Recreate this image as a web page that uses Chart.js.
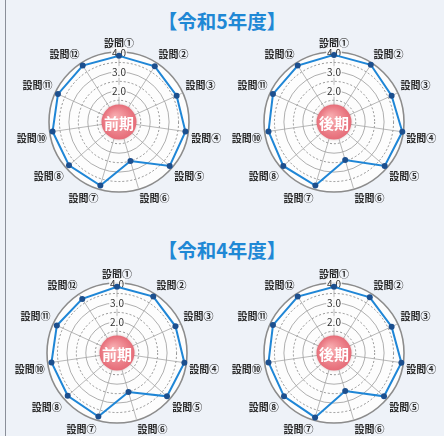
<!DOCTYPE html>
<html>
<head>
<meta charset="utf-8">
<script src="https://cdn.jsdelivr.net/npm/chart.js@4"></script>
<style>
  body { margin: 0; width: 444px; height: 436px; background: #eef2f8; overflow: hidden; position: relative;
         font-family: "Noto Sans CJK JP", sans-serif; }
  .title { position: absolute; left: 0; width: 444px; text-align: center; color: #1f88d5;
           font-weight: bold; font-size: 19.5px; line-height: 20px; }
  .edge { position: absolute; left: 5px; top: 0; width: 1px; height: 436px; background: #8a8f99; }
  canvas { position: absolute; }
</style>
</head>
<body>
<div class="edge"></div>
<div class="title" style="top:11px">【令和5年度】</div>
<div class="title" style="top:240px">【令和4年度】</div>
<canvas id="r5First" width="218" height="170" style="left:10px;top:36px"></canvas>
<canvas id="r5Second" width="218" height="170" style="left:225px;top:36px"></canvas>
<canvas id="r4First" width="218" height="170" style="left:8px;top:267px"></canvas>
<canvas id="r4Second" width="218" height="170" style="left:225px;top:267px"></canvas>
<script>
// 設問⑨ は図にない
const questions = ['設問①', '設問②', '設問③', '設問④', '設問⑤', '設問⑥', '設問⑦', '設問⑧', '設問⑩', '設問⑪', '設問⑫'];
const r5FirstValues  = [3.85, 3.85, 3.7, 3.9, 3.9, 2.5, 3.85, 3.85, 3.9, 3.9, 3.9];
const r5SecondValues = [3.9, 3.95, 3.7, 4.0, 3.9, 2.45, 3.85, 3.9, 3.85, 3.9, 3.9];
const r4FirstValues  = [3.85, 3.9, 3.75, 3.95, 3.85, 2.5, 3.85, 3.8, 3.85, 3.85, 3.75];
const r4SecondValues = [3.85, 3.85, 3.7, 3.95, 3.85, 2.45, 3.9, 3.85, 3.85, 3.9, 3.9];
const ringValues = [1.0, 1.5, 2.0, 2.5, 3.0, 3.5, 4.0];
const labeledTicks = [2.0, 3.0, 4.0];
const scaleMin = 0.35;
const scaleMax = 4.0;

// 白い円盤（背景）と中央の赤いバッジ
const radarDecor = {
  id: 'radarDecor',
  beforeDraw(chart) {
    const s = chart.scales.r;
    const ctx = chart.ctx;
    ctx.save();
    ctx.beginPath();
    ctx.arc(s.xCenter, s.yCenter, s.drawingArea + 1, 0, Math.PI * 2);
    ctx.fillStyle = '#fdfdfd';
    ctx.fill();
    ctx.lineWidth = 1.6;
    ctx.strokeStyle = '#8c8c8c';
    ctx.stroke();
    ctx.restore();
  },
  afterDraw(chart, args, opts) {
    const s = chart.scales.r;
    const ctx = chart.ctx;
    const x = s.xCenter, y = s.yCenter, rad = 17.5;
    ctx.save();
    ctx.shadowColor = 'rgba(120,60,60,0.3)';
    ctx.shadowBlur = 3;
    const g = ctx.createRadialGradient(x - 4, y - 5, 2, x, y, rad);
    g.addColorStop(0, '#f7a9ad');
    g.addColorStop(1, '#e66c78');
    ctx.beginPath();
    ctx.arc(x, y, rad, 0, Math.PI * 2);
    ctx.fillStyle = g;
    ctx.fill();
    ctx.shadowColor = 'transparent';
    ctx.fillStyle = '#ffffff';
    ctx.font = 'bold 15px "Noto Sans CJK JP"';
    ctx.textAlign = 'center';
    ctx.textBaseline = 'middle';
    ctx.fillText(opts.text, x, y + 1);
    ctx.restore();
  }
};

function makeRadar(id, values, badge) {
  return new Chart(document.getElementById(id), {
    type: 'radar',
    data: {
      labels: questions,
      datasets: [{
        data: values,
        borderColor: '#1f86d6',
        borderWidth: 2,
        fill: false,
        pointRadius: 3,
        pointBorderWidth: 0,
        pointBackgroundColor: '#1c4f8e'
      }]
    },
    options: {
      responsive: false,
      animation: false,
      plugins: {
        legend: { display: false },
        tooltip: { enabled: false },
        radarDecor: { text: badge }
      },
      scales: {
        r: {
          min: scaleMin,
          max: scaleMax,
          afterBuildTicks: (scale) => {
            scale.ticks = [scaleMin].concat(ringValues).map(v => ({ value: v }));
          },
          grid: {
            circular: true,
            color: c => (c.tick && c.tick.value % 1 === 0) ? '#9a9a9a' : '#7a7a7a',
            lineWidth: c => (c.tick && c.tick.value === scaleMax) ? 0 : 0.8
          },
          border: {
            dash: c => (c.tick && c.tick.value % 1 !== 0) ? [2, 2] : []
          },
          angleLines: { color: '#a6a6a6', lineWidth: 0.8 },
          ticks: {
            font: { size: 10, family: '"Noto Sans CJK JP"' },
            color: '#333333',
            backdropColor: 'rgba(253,253,253,0.8)',
            backdropPadding: 1,
            showLabelBackdrop: c => !!(c.tick && labeledTicks.includes(c.tick.value)),
            callback: v => labeledTicks.includes(v) ? v.toFixed(1) : ''
          },
          pointLabels: {
            font: { size: 10, family: '"Noto Sans CJK JP"', weight: 'bold' },
            color: '#2a2a2a',
            padding: -2
          }
        }
      }
    },
    plugins: [radarDecor]
  });
}

makeRadar('r5First', r5FirstValues, '前期');
makeRadar('r5Second', r5SecondValues, '後期');
makeRadar('r4First', r4FirstValues, '前期');
makeRadar('r4Second', r4SecondValues, '後期');
</script>
</body>
</html>
